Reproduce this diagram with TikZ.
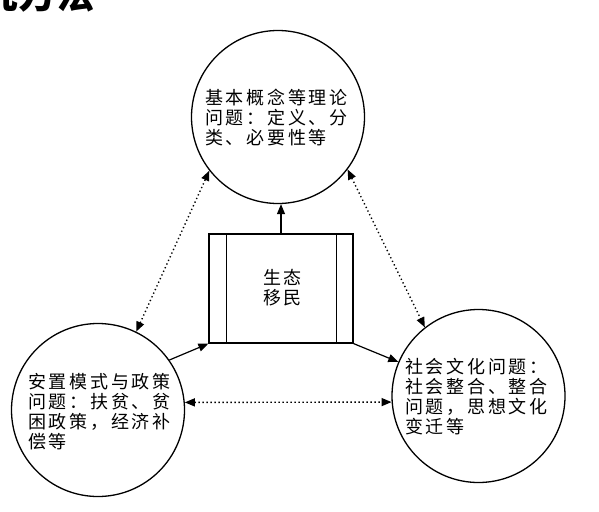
\documentclass[tikz,border=0pt]{standalone}
\usepackage{fontspec}
\newfontfamily\cjk[LetterSpace=15]{Noto Sans CJK SC}
\newfontfamily\cjktitle{Noto Sans CJK SC}
\usetikzlibrary{arrows.meta}
\begin{document}
\begin{tikzpicture}[x=1pt,y=-1pt,
  ring/.style={draw,circle,line width=1.3pt,minimum size=173pt,inner sep=0pt},
  txt/.style={anchor=west,inner sep=0pt,align=left,font=\cjk\fontsize{18}{20}\selectfont},
  solidarrow/.style={line width=1.2pt,-{Triangle[length=10pt,width=8pt]}},
  dotarrow/.style={line width=1.4pt,dash pattern=on 1.3pt off 2.7pt,{Triangle[length=10pt,width=8pt]}-{Triangle[length=10pt,width=8pt]}}]
\useasboundingbox (0,0) rectangle (599,511);
\node[anchor=base west,inner sep=0pt,font=\cjktitle\bfseries\fontsize{38}{40}\selectfont] (title) at (-20,9) {究方法};
\node[ring] (top) at (278,117) {};
\node[ring] (left) at (98,410) {};
\node[ring] (right) at (478.5,396) {};
\node[draw,line width=1.2pt,minimum width=144pt,minimum height=109pt,inner sep=0pt] (box) at (281,288.5) {};
\draw[line width=1.2pt] ([xshift=18pt]box.north west) -- ([xshift=18pt]box.south west);
\draw[line width=1.2pt] ([xshift=-17pt]box.north east) -- ([xshift=-17pt]box.south east);
\node[txt] (ttop) at (205,117.7) {基本概念等理论\\问题：定义、分\\类、必要性等};
\node[txt] (tleft) at (28,412) {安置模式与政策\\问题：扶贫、贫\\困政策，经济补\\偿等};
\node[txt] (tright) at (405,397) {社会文化问题：\\社会整合、整合\\问题，思想文化\\变迁等};
\node[txt] (tbox) at (263,288) {生态\\移民};
\draw[solidarrow] (box.north) -- (box.north |- top.south);
\draw[solidarrow] (left.35) -- (box.south west);
\draw[solidarrow] (box.south east) -- (right.157);
\draw[dotarrow] (left.64) -- (top.218);
\draw[dotarrow] (top.323) -- (right.128);
\draw[dotarrow] (left.5) -- (right.184);
\end{tikzpicture}
\end{document}
